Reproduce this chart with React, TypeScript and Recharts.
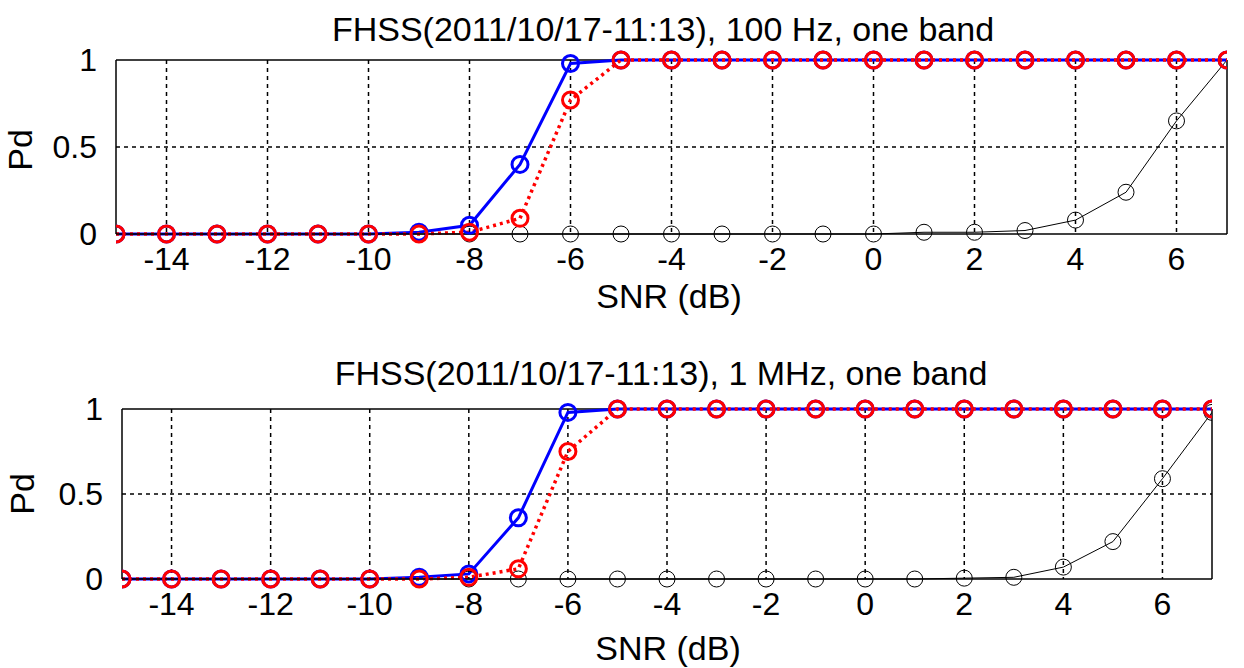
import React from 'react';
import { LineChart, Line, XAxis, YAxis, CartesianGrid, ReferenceLine } from 'recharts';

const snr = [-15, -14, -13, -12, -11, -10, -9, -8, -7, -6, -5, -4, -3, -2, -1, 0, 1, 2, 3, 4, 5, 6, 7];
const xTicks = [-14, -12, -10, -8, -6, -4, -2, 0, 2, 4, 6];
const yTicks = [0, 0.5, 1];

// 100 Hz panel
const topBlue = [0, 0, 0, 0, 0, 0, 0.01, 0.05, 0.4, 0.98, 1, 1, 1, 1, 1, 1, 1, 1, 1, 1, 1, 1, 1];
const topRed = [0, 0, 0, 0, 0, 0, 0, 0.01, 0.09, 0.77, 1, 1, 1, 1, 1, 1, 1, 1, 1, 1, 1, 1, 1];
const topBlack = [0, 0, 0, 0, 0, 0, 0, 0, 0, 0, 0, 0, 0, 0, 0, 0, 0.01, 0.01, 0.02, 0.08, 0.24, 0.65, 1];

// 1 MHz panel
const botBlue = [0, 0, 0, 0, 0, 0, 0.01, 0.03, 0.36, 0.98, 1, 1, 1, 1, 1, 1, 1, 1, 1, 1, 1, 1, 1];
const botRed = [0, 0, 0, 0, 0, 0, 0, 0.01, 0.06, 0.75, 1, 1, 1, 1, 1, 1, 1, 1, 1, 1, 1, 1, 1];
const botBlack = [0, 0, 0, 0, 0, 0, 0, 0, 0, 0, 0, 0, 0, 0, 0, 0, 0, 0.005, 0.01, 0.07, 0.22, 0.59, 0.98];

const font = '"Liberation Sans", Arial, sans-serif';
const tickSize = 32;
const labelSize = 34;

const buildRows = (blue: number[], red: number[], black: number[]) =>
  snr.map((x, i) => ({ x, blue: blue[i], red: red[i], black: black[i] }));

const textStyle: React.CSSProperties = {
  position: 'absolute',
  fontFamily: font,
  fontSize: labelSize,
  color: '#000',
  whiteSpace: 'nowrap',
  transform: 'translate(-50%, -50%)',
  lineHeight: 1,
};

type PanelProps = {
  top: number;
  height: number;
  margin: { top: number; right: number; bottom: number; left: number };
  data: { x: number; blue: number; red: number; black: number }[];
};

const Panel = ({ top, height, margin, data }: PanelProps) => (
  <div style={{ position: 'absolute', left: 0, top }}>
    <LineChart width={1244} height={height} data={data} margin={margin}>
      <CartesianGrid
        stroke="#000"
        strokeDasharray="4 4"
        strokeWidth={1.5}
        horizontalValues={[0.5]}
        verticalValues={xTicks}
      />
      <XAxis
        type="number"
        dataKey="x"
        domain={[-15, 7]}
        ticks={xTicks}
        allowDataOverflow
        height={40}
        tickLine={false}
        tickMargin={7}
        axisLine={{ stroke: '#000', strokeWidth: 1.5 }}
        tick={{ fill: '#000', fontSize: tickSize, fontFamily: font }}
        interval={0}
      />
      <YAxis
        type="number"
        domain={[0, 1]}
        ticks={yTicks}
        width={60}
        tickLine={false}
        tickMargin={13}
        axisLine={{ stroke: '#000', strokeWidth: 1.5 }}
        tick={{ fill: '#000', fontSize: tickSize, fontFamily: font }}
        interval={0}
      />
      <ReferenceLine y={1} stroke="#000" strokeWidth={1.5} />
      <ReferenceLine x={7} stroke="#000" strokeWidth={1.5} />
      <Line
        dataKey="black"
        stroke="#000"
        strokeWidth={1}
        dot={{ r: 8, stroke: '#000', strokeWidth: 1, fill: 'none' }}
        activeDot={false}
        isAnimationActive={false}
      />
      <Line
        dataKey="blue"
        stroke="#0000ff"
        strokeWidth={3}
        dot={{ r: 8, stroke: '#0000ff', strokeWidth: 3, fill: 'none' }}
        activeDot={false}
        isAnimationActive={false}
      />
      <Line
        dataKey="red"
        stroke="#ff0000"
        strokeWidth={3.5}
        strokeDasharray="3 4"
        dot={{ r: 8, stroke: '#ff0000', strokeWidth: 3, fill: 'none', strokeDasharray: '0' }}
        activeDot={false}
        isAnimationActive={false}
      />
    </LineChart>
  </div>
);

export default function App() {
  return (
    <div style={{ position: 'absolute', left: 0, top: 0, width: 1244, height: 668, background: '#fff', overflow: 'hidden' }}>
      <Panel top={0} height={330} margin={{ top: 60, right: 17, bottom: 56, left: 56 }} data={buildRows(topBlue, topRed, topBlack)} />
      <Panel top={340} height={328} margin={{ top: 69, right: 32, bottom: 49, left: 62 }} data={buildRows(botBlue, botRed, botBlack)} />

      <div style={{ ...textStyle, left: 663, top: 29 }}>FHSS(2011/10/17-11:13), 100 Hz, one band</div>
      <div style={{ ...textStyle, left: 669, top: 296 }}>SNR (dB)</div>
      <div style={{ ...textStyle, left: 20, top: 150, transform: 'translate(-50%, -50%) rotate(-90deg)' }}>Pd</div>

      <div style={{ ...textStyle, left: 661, top: 373 }}>FHSS(2011/10/17-11:13), 1 MHz, one band</div>
      <div style={{ ...textStyle, left: 668, top: 648 }}>SNR (dB)</div>
      <div style={{ ...textStyle, left: 22, top: 494, transform: 'translate(-50%, -50%) rotate(-90deg)' }}>Pd</div>
    </div>
  );
}
